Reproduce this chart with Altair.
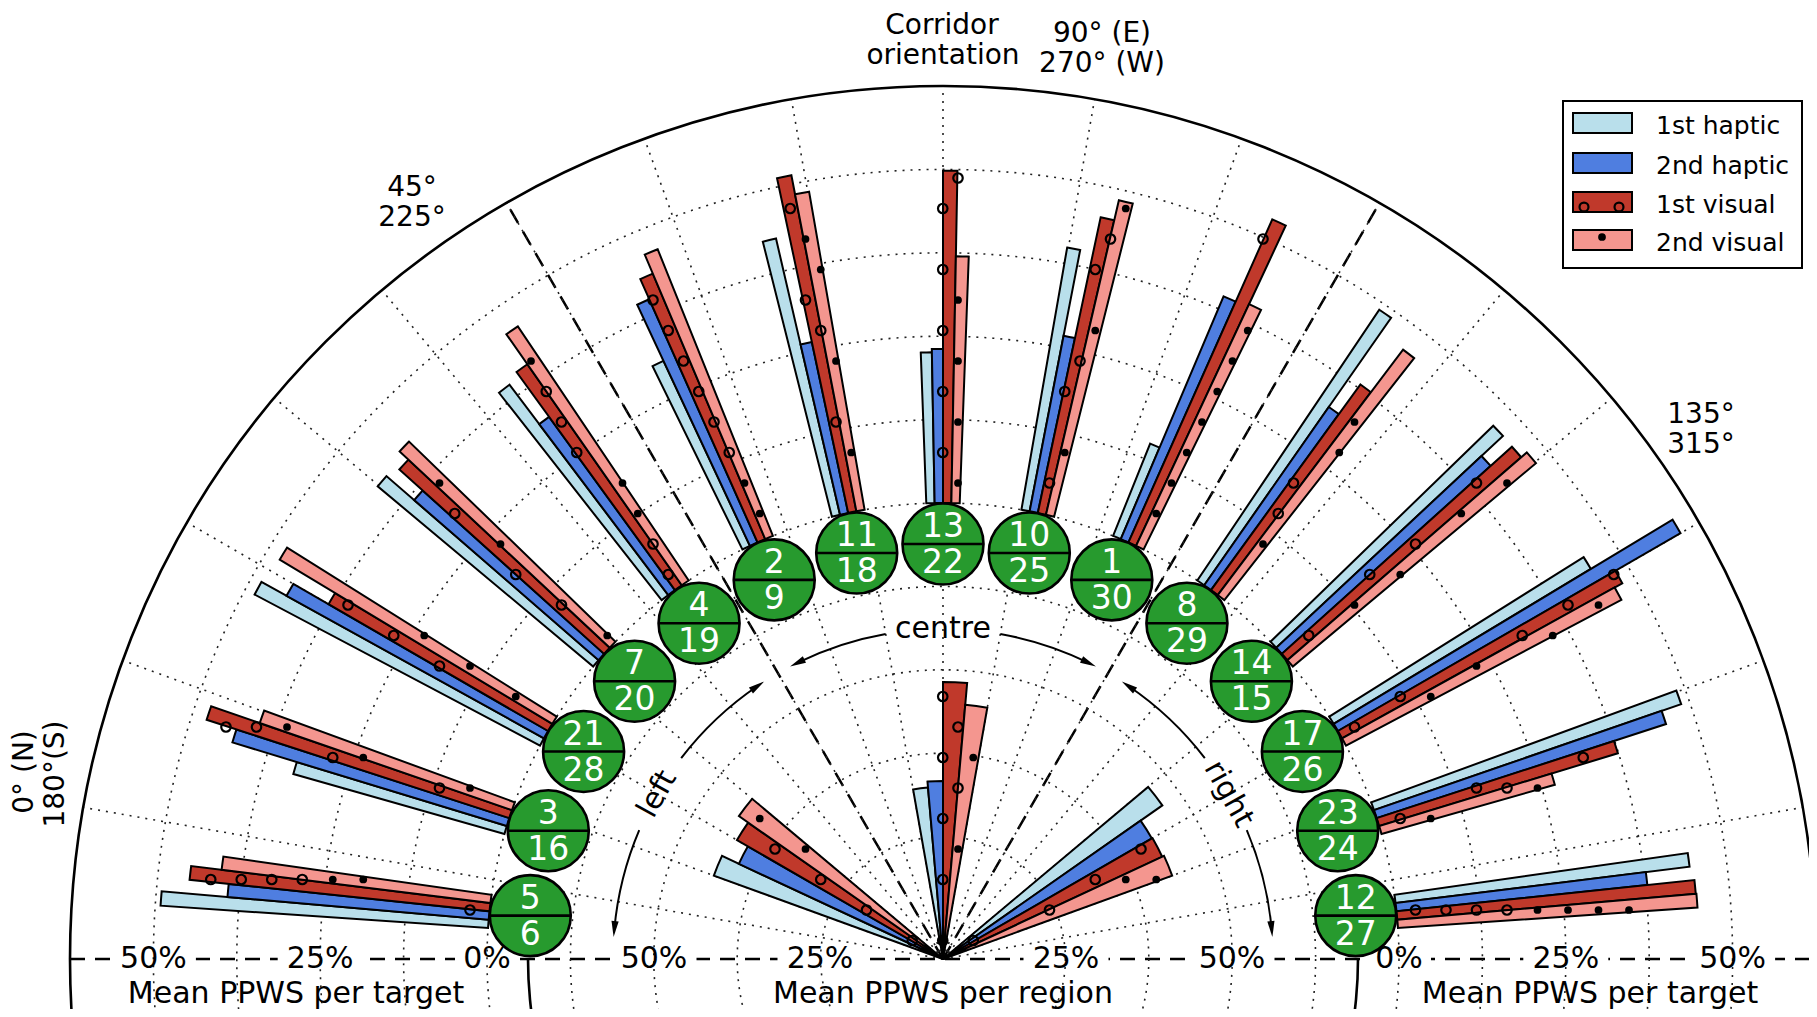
import math
import altair as alt
import pandas as pd

# ---------------- data ----------------
TARGET_TOP = [5, 3, 21, 7, 4, 2, 11, 13, 10, 1, 8, 14, 17, 23, 12]
TARGET_BOTTOM = [6, 16, 28, 20, 19, 9, 18, 22, 25, 30, 29, 15, 26, 24, 27]
SERIES = ["1st haptic", "2nd haptic", "1st visual", "2nd visual"]
PPWS_HAPTIC_1 = [49.2, 32.9, 48.4, 42.1, 39.5, 30.6, 42.5, 22.6, 39.9, 14.9, 48.9, 46.5, 45.0, 48.7, 44.4]
PPWS_HAPTIC_2 = [39.3, 43.0, 44.1, 36.6, 32.1, 39.9, 26.2, 23.1, 26.8, 39.5, 32.6, 42.1, 59.3, 45.6, 37.8]
PPWS_VISUAL_1 = [45.2, 47.7, 38.0, 41.3, 40.4, 43.2, 51.3, 49.8, 45.3, 53.0, 38.1, 46.4, 48.0, 37.4, 44.9]
PPWS_VISUAL_2 = [40.6, 40.0, 47.7, 43.1, 45.9, 46.3, 48.4, 37.0, 48.4, 40.0, 46.1, 47.5, 46.7, 27.0, 45.0]
REGIONS = ["left", "centre", "right"]
REGION_HAPTIC_1 = [43.2, 32.4, 46.8]
REGION_HAPTIC_2 = [40.4, 33.3, 42.8]
REGION_VISUAL_1 = [42.3, 48.2, 42.9]
REGION_VISUAL_2 = [44.0, 44.9, 43.2]
TARGET_TICKS = [0, 25, 50]
REGION_TICKS = [25, 50]
ORIENT_LINE1 = ["0° (N)", "45°", "90° (E)", "135°"]
ORIENT_LINE2 = ["180°(S)", "225°", "270° (W)", "315°"]
AXIS_TITLE_TARGET = "Mean PPWS per target"
AXIS_TITLE_REGION = "Mean PPWS per region"

# ---------------- layout ----------------
W, H = 1801, 1001
OFF = 8
CX, CY = 943 - OFF, 959 - OFF
R_T0, R_OUT, T_MAX = 456.0, 873.0, 62.5
K_T = (R_OUT - R_T0) / T_MAX
R_IN25, R_IN50 = 123.0, 289.0
K_IN = (R_IN50 - R_IN25) / 25.0
GROUP_START, GROUP_STEP = 6.0, 12.0
BAR_W = 1.05
IN_BAR_W = 5.0
REGION_POS = [30.0, 90.0, 150.0]        # degrees from the left end of the half circle
BADGE_RADIUS, BADGE_R = 415.0, 40.5
RING_STEP = 12.5 * K_T
RINGS = [R_T0 + (k - 5) * RING_STEP for k in range(1, 10)]
SPOKES = list(range(10, 180, 10))
ARROW_R = 330.0
FONT = "DejaVu Sans"
COLORS = ["#b9dfeb", "#4f7ee0", "#c0392b", "#f4968f"]
GREEN = "#279a2e"
HATCH_X0, HATCH_Y0, HATCH_S = 958 - OFF, 300 - OFF, 30.5

theta_scale = alt.Scale(domain=[0, 180], range=[-math.pi / 2, math.pi / 2])


def xy(phi, r):
    a = math.radians(phi)
    return CX + r * math.cos(a), CY - r * math.sin(a)


def r_target(v):
    return R_T0 + v * K_T


def r_region(v):
    return R_IN25 + (v - 25) * K_IN


# ---------------- tables ----------------
vals = [PPWS_HAPTIC_1, PPWS_HAPTIC_2, PPWS_VISUAL_1, PPWS_VISUAL_2]
bar_rows = []
for i in range(len(TARGET_TOP)):
    c = GROUP_START + GROUP_STEP * i
    for s in range(4):
        tc = c + (s - 1.5) * BAR_W
        bar_rows.append(dict(t0=tc - BAR_W / 2, t1=tc + BAR_W / 2, value=vals[s][i],
                             base=0.0, color=COLORS[s], series=SERIES[s], s=s,
                             rb=R_T0, rt=r_target(vals[s][i])))
bars = pd.DataFrame(bar_rows)

rvals = [REGION_HAPTIC_1, REGION_HAPTIC_2, REGION_VISUAL_1, REGION_VISUAL_2]
reg_rows = []
for j, reg in enumerate(REGIONS):
    c = REGION_POS[j]
    for s in range(4):
        tc = c + (s - 1.5) * IN_BAR_W
        reg_rows.append(dict(t0=tc - IN_BAR_W / 2, t1=tc + IN_BAR_W / 2, value=rvals[s][j],
                             color=COLORS[s], series=SERIES[s], region=reg, s=s,
                             rb=0.0, rt=r_region(rvals[s][j])))
regs = pd.DataFrame(reg_rows)

# hatch lattice (pattern fixed in figure space, kept only inside the visual bars)
hatch_rows = []
wedges = pd.concat([bars, regs])
for _, b in wedges[wedges.s >= 2].iterrows():
    phi_hi, phi_lo = 180 - b.t0, 180 - b.t1
    margin = -1.0 if b.s == 2 else 0.5
    for jj in range(-12, 25):
        yy = HATCH_Y0 + jj * HATCH_S
        shift = HATCH_S / 2 if jj % 2 else 0.0
        for ii in range(-35, 35):
            xx = HATCH_X0 + ii * HATCH_S + shift
            dx, dy = xx - CX, CY - yy
            r = math.hypot(dx, dy)
            if r < b.rb + 4 or r > b.rt - 3:
                continue
            phi = math.degrees(math.atan2(dy, dx))
            if r * math.sin(math.radians(phi - phi_lo)) < margin:
                continue
            if r * math.sin(math.radians(phi_hi - phi)) < margin:
                continue
            hatch_rows.append(dict(x=xx, y=yy, kind=int(b.s), key=(jj, ii)))
hatch = pd.DataFrame(hatch_rows)
circle_keys = set(hatch[hatch.kind == 2].key)
hatch = hatch[~((hatch.kind == 3) & hatch.key.isin(circle_keys))].drop(columns="key")

badge_rows = []
for i in range(len(TARGET_TOP)):
    phi = 180 - (GROUP_START + GROUP_STEP * i)
    x, y = xy(phi, BADGE_RADIUS)
    badge_rows.append(dict(x=x, y=y, x0=x - BADGE_R, x1=x + BADGE_R,
                           top=str(TARGET_TOP[i]), bottom=str(TARGET_BOTTOM[i]),
                           yt=y - 17, yb=y + 19))
badges = pd.DataFrame(badge_rows)

# ---------------- layers ----------------
X = lambda f: alt.X(f, type="quantitative", scale=None)
Y = lambda f: alt.Y(f, type="quantitative", scale=None)

dash_rows = [dict(x0=CX - R_OUT, y0=CY, x1=CX + R_OUT, y1=CY)]
for phi in (60, 120):
    x1, y1 = xy(phi, R_OUT)
    dash_rows.append(dict(x0=CX, y0=CY, x1=x1, y1=y1))
dashes = alt.Chart(pd.DataFrame(dash_rows)).mark_rule(
    color="black", strokeWidth=2.5, strokeDash=[15, 10], clip=True
).encode(x=X("x0"), y=Y("y0"), x2="x1", y2="y1")

tick_rows = []
for v in TARGET_TICKS:
    for sign in (-1, 1):
        tick_rows.append(dict(x=CX + sign * r_target(v), y=CY, label=f"{v}%"))
for v in REGION_TICKS:
    for sign in (-1, 1):
        tick_rows.append(dict(x=CX + sign * r_region(v), y=CY, label=f"{v}%"))
ticks = pd.DataFrame(tick_rows)
ticks["w"] = ticks.label.str.len() * 21 + 22
ticks["bx0"] = ticks.x - ticks.w / 2
ticks["bx1"] = ticks.x + ticks.w / 2
ticks["by0"] = ticks.y - 10
ticks["by1"] = ticks.y + 10
tick_boxes = alt.Chart(ticks).mark_rect(color="white").encode(
    x=X("bx0"), x2="bx1", y=Y("by0"), y2="by1")
tick_text = alt.Chart(ticks).mark_text(font=FONT, fontSize=30, color="black",
                                       align="center", baseline="middle").encode(
    x=X("x"), y=Y("y"), text="label:N")

rings = alt.Chart(pd.DataFrame(dict(r=RINGS, size=[4 * r * r for r in RINGS]))).mark_point(
    shape="circle", filled=False, stroke="#222222", strokeWidth=1.6, strokeDash=[2, 6],
    opacity=1, clip=True
).encode(x=alt.value(CX), y=alt.value(CY), size=alt.Size("size:Q", scale=None))

spoke_rows = []
for phi in SPOKES:
    x1, y1 = xy(phi, R_OUT)
    spoke_rows.append(dict(x0=CX, y0=CY, x1=x1, y1=y1))
spokes = alt.Chart(pd.DataFrame(spoke_rows)).mark_rule(
    color="#222222", strokeWidth=1.6, strokeDash=[2, 6]
).encode(x=X("x0"), y=Y("y0"), x2="x1", y2="y1")

outer = alt.Chart(pd.DataFrame(dict(size=[4 * R_OUT * R_OUT]))).mark_point(
    shape="circle", filled=False, stroke="black", strokeWidth=2.6, opacity=1, clip=True
).encode(x=alt.value(CX), y=alt.value(CY), size=alt.Size("size:Q", scale=None))

# solid half circle through the target badges, visible below the base line
lower_arc = alt.Chart(pd.DataFrame(dict(t0=[0.0], t1=[-180.0]))).mark_arc(color="black", clip=True).encode(
    x=alt.value(CX), y=alt.value(CY),
    theta=alt.Theta("t0:Q", scale=theta_scale, stack=None), theta2=alt.Theta2("t1"),
    radius=alt.value(BADGE_RADIUS + 1.3), radius2=alt.value(BADGE_RADIUS - 1.3))

bar_layer = alt.Chart(bars).mark_arc(stroke="black", strokeWidth=2, strokeJoin="miter").encode(
    x=alt.value(CX), y=alt.value(CY),
    theta=alt.Theta("t0:Q", scale=theta_scale, stack=None),
    theta2=alt.Theta2("t1"),
    radius=alt.Radius("value:Q", stack=None,
                      scale=alt.Scale(type="linear", domain=[0, T_MAX], range=[R_T0, R_OUT], zero=False)),
    radius2=alt.Radius2("base"),
    fill=alt.Fill("color:N", scale=None),
)

region_layer = alt.Chart(regs).mark_arc(stroke="black", strokeWidth=2, strokeJoin="miter").encode(
    x=alt.value(CX), y=alt.value(CY),
    theta=alt.Theta("t0:Q", scale=theta_scale, stack=None),
    theta2=alt.Theta2("t1"),
    radius=alt.Radius("value:Q", stack=None,
                      scale=alt.Scale(type="linear", domain=[25, 50], range=[R_IN25, R_IN50], zero=False)),
    radius2=alt.value(0),
    fill=alt.Fill("color:N", scale=None),
)

hatch_o = alt.Chart(hatch[hatch.kind == 2]).mark_point(
    shape="circle", filled=False, stroke="black", strokeWidth=2.2, size=90, opacity=1
).encode(x=X("x"), y=Y("y"))
hatch_dot = alt.Chart(hatch[hatch.kind == 3]).mark_point(
    shape="circle", filled=True, fill="black", strokeWidth=0, size=60, opacity=1
).encode(x=X("x"), y=Y("y"))

badge_pts = alt.Chart(badges).mark_point(
    shape="circle", filled=True, fill=GREEN, stroke="black", strokeWidth=2.6,
    size=4 * BADGE_R * BADGE_R, opacity=1
).encode(x=X("x"), y=Y("y"))
badge_lines = alt.Chart(badges).mark_rule(color="black", strokeWidth=2.6).encode(
    x=X("x0"), x2="x1", y=Y("y"))
badge_top = alt.Chart(badges).mark_text(font=FONT, fontSize=33, color="white",
                                        align="center", baseline="middle").encode(
    x=X("x"), y=Y("yt"), text="top:N")
badge_bot = alt.Chart(badges).mark_text(font=FONT, fontSize=33, color="white",
                                        align="center", baseline="middle").encode(
    x=X("x"), y=Y("yb"), text="bottom:N")

# region arrows
ARROWS = [(100, 117.6), (80, 62.4), (142.5, 122.8), (157, 176.2), (37.5, 57.2), (23, 3.8)]
arc_rows, head_rows = [], []
for start, tip in ARROWS:
    d = 1 if tip > start else -1
    back = math.degrees(8 / ARROW_R)
    hc = tip - d * back
    arc_rows.append(dict(t0=180 - start, t1=180 - hc))
    hx, hy = xy(hc, ARROW_R)
    ang = (-hc) % 360 if d > 0 else (180 - hc) % 360
    head_rows.append(dict(x=hx, y=hy, ang=ang))
arrow_arcs = alt.Chart(pd.DataFrame(arc_rows)).mark_arc(color="black").encode(
    x=alt.value(CX), y=alt.value(CY),
    theta=alt.Theta("t0:Q", scale=theta_scale, stack=None), theta2=alt.Theta2("t1"),
    radius=alt.value(ARROW_R + 1), radius2=alt.value(ARROW_R - 1))
arrow_heads = alt.Chart(pd.DataFrame(head_rows)).mark_point(
    shape="M0,-1L0.45,1L-0.45,1Z", filled=True, fill="black", strokeWidth=0, size=256, opacity=1
).encode(x=X("x"), y=Y("y"), angle=alt.Angle("ang:Q", scale=None))

reg_lab_rows = []
for name, phi in zip(REGIONS, [150, 90, 30]):
    x, y = xy(phi, ARROW_R)
    rot = {"left": 299, "centre": 0, "right": 61}[name]
    reg_lab_rows.append(dict(x=x, y=y, label=name, rot=rot))
region_labels = alt.Chart(pd.DataFrame(reg_lab_rows)).mark_text(
    font=FONT, fontSize=30, color="black", align="center", baseline="middle").encode(
    x=X("x"), y=Y("y"), text="label:N", angle=alt.Angle("rot:Q", scale=None))

# axis titles
title_rows = [
    dict(x=296 - OFF, y=994 - OFF, label=AXIS_TITLE_TARGET),
    dict(x=CX, y=994 - OFF, label=AXIS_TITLE_REGION),
    dict(x=1590 - OFF, y=994 - OFF, label=AXIS_TITLE_TARGET),
]
titles = alt.Chart(pd.DataFrame(title_rows)).mark_text(
    font=FONT, fontSize=30, color="black", align="center", baseline="middle").encode(
    x=X("x"), y=Y("y"), text="label:N")

# orientation labels (two lines each, tight line spacing as in the figure)
orient_rows = [
    dict(x=942 - OFF, y=26 - OFF, label="Corridor", rot=0),
    dict(x=943 - OFF, y=56 - OFF, label="orientation", rot=0),
]
ORIENT_POS = [((25, 772), (56, 774), 270), ((412, 188), (412, 218), 0),
              ((1102, 34), (1102, 64), 0), ((1701, 415), (1701, 445), 0)]
for k in range(4):
    p1, p2, rot = ORIENT_POS[k]
    orient_rows.append(dict(x=p1[0] - OFF, y=p1[1] - OFF, label=ORIENT_LINE1[k], rot=rot))
    orient_rows.append(dict(x=p2[0] - OFF, y=p2[1] - OFF, label=ORIENT_LINE2[k], rot=rot))
orient = alt.Chart(pd.DataFrame(orient_rows)).mark_text(
    font=FONT, fontSize=28, color="black", align="center", baseline="middle").encode(
    x=X("x"), y=Y("y"), text="label:N", angle=alt.Angle("rot:Q", scale=None))

# legend
LEG_X0, LEG_X1, LEG_Y0, LEG_Y1 = 1555, 1794, 93, 260
LEG_ROWS_Y = [115, 155, 194, 232]
leg = pd.DataFrame(dict(label=SERIES, color=COLORS, y=LEG_ROWS_Y))
leg["y0"] = leg.y - 10
leg["y1"] = leg.y + 10
leg["x0"] = 1565
leg["x1"] = 1624
leg["tx"] = 1648
leg["ty"] = leg.y + 3
leg_frame = alt.Chart(pd.DataFrame(dict(x0=[LEG_X0], x1=[LEG_X1], y0=[LEG_Y0], y1=[LEG_Y1]))).mark_rect(
    fill="white", stroke="black", strokeWidth=2).encode(x=X("x0"), x2="x1", y=Y("y0"), y2="y1")
leg_patch = alt.Chart(leg).mark_rect(stroke="black", strokeWidth=2).encode(
    x=X("x0"), x2="x1", y=Y("y0"), y2="y1", fill=alt.Fill("color:N", scale=None))
leg_o = alt.Chart(pd.DataFrame(dict(x=[1576, 1611], y=[LEG_ROWS_Y[2] + 5] * 2))).mark_point(
    shape="circle", filled=False, stroke="black", strokeWidth=2.2, size=80, opacity=1
).encode(x=X("x"), y=Y("y"))
leg_dot = alt.Chart(pd.DataFrame(dict(x=[1594], y=[LEG_ROWS_Y[3] - 3]))).mark_point(
    shape="circle", filled=True, fill="black", strokeWidth=0, size=60, opacity=1
).encode(x=X("x"), y=Y("y"))
leg_text = alt.Chart(leg).mark_text(font=FONT, fontSize=25, color="black",
                                    align="left", baseline="middle").encode(
    x=X("tx"), y=Y("ty"), text="label:N")

chart = alt.layer(
    dashes, tick_boxes, rings, spokes, outer, lower_arc,
    region_layer, bar_layer, hatch_o, hatch_dot,
    badge_pts, badge_lines, badge_top, badge_bot,
    arrow_arcs, arrow_heads, region_labels, tick_text, titles, orient,
    leg_frame, leg_patch, leg_o, leg_dot, leg_text,
).resolve_scale(radius="independent").properties(
    width=W, height=H, padding=0, background="white"
).configure_view(stroke=None)

chart.save("out.html", embed_options={"renderer": "svg", "actions": False})
